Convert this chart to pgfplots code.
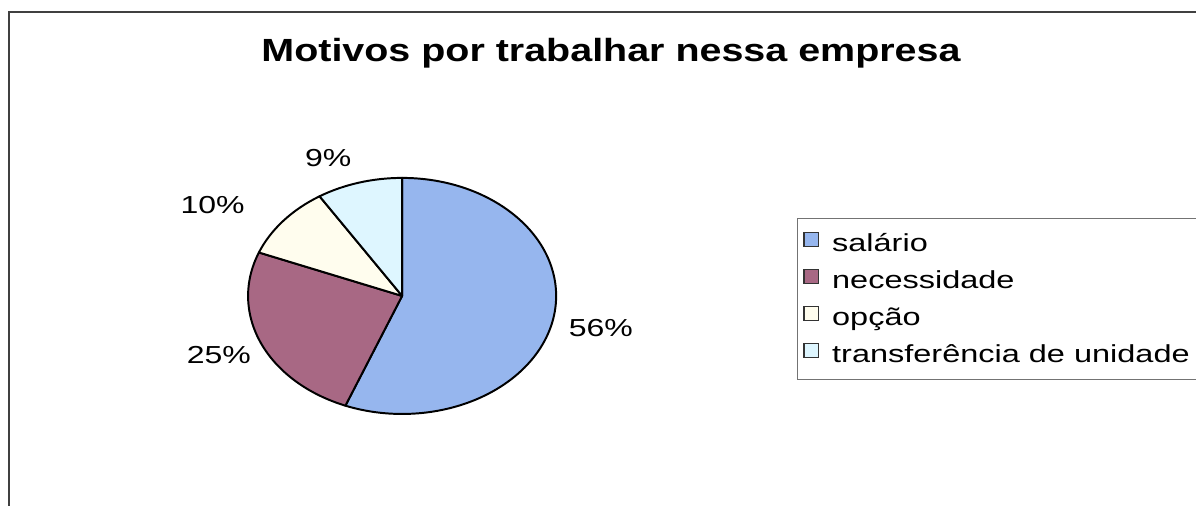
\documentclass[border=0pt]{standalone}
\usepackage{pgfplots}
\pgfplotsset{compat=1.18}
\usepackage{fontspec}
\setmainfont{Liberation Sans}
\usepackage{graphicx}
\definecolor{cA}{RGB}{150,182,238}
\definecolor{cB}{RGB}{168,104,132}
\definecolor{cC}{RGB}{255,253,238}
\definecolor{cD}{RGB}{222,246,255}
\newcommand\sx[1]{\scalebox{1.3}[1]{#1}}
\newcommand\lx[1]{\scalebox{1.32}[1]{#1}}
\newcommand\lab{\fontsize{17.5}{21}\selectfont}
\begin{document}
\begin{tikzpicture}[x=0.025cm,y=0.025cm]
\useasboundingbox (0,0) rectangle (1196,506);
\fill[white] (0,0) rectangle (1196,506);
\draw[line width=1.4pt, black!75] (9,-5) -- (9,494) -- (1200,494);
\node[font=\bfseries\fontsize{22.8}{26}\selectfont] at (611,453) {\scalebox{1.23}[1]{Motivos por trabalhar nessa empresa}};
\begin{axis}[at={(6.2cm,2.3cm)}, anchor=south west, scale only axis,
  x=3.85cm, y=2.95cm, xmin=-1, xmax=1, ymin=-1, ymax=1,
  hide axis, clip=false,
  legend cell align=left,
  legend image code/.code={\draw[#1] (0cm,-0.08cm) rectangle (0.36cm,0.28cm); \path (0.62cm,0);},
  legend style={at={(1.7825,0.8305)}, anchor=north west,
    draw=black!55, line width=0.8pt, fill=white,
    font=\lab, row sep=8.2pt, inner xsep=4pt, inner ysep=8.5pt}]
\pgfmathsetmacro\startang{90}
\foreach \v/\c/\lx/\ly in {56/cA/1.29/-0.27, 25/cB/-1.19/-0.5, 10/cC/-1.23/0.77, 9/cD/-0.48/1.17}{
  \pgfmathsetmacro\endang{\startang-3.6*\v}
  \edef\temp{\noexpand\filldraw[fill=\c, draw=black, line width=1.4pt, line join=round] (axis cs:0,0) -- (axis cs:{cos(\startang)},{sin(\startang)}) arc[start angle=\startang, end angle=\endang, x radius=3.85cm, y radius=2.95cm] -- cycle;
    \noexpand\node[font=\noexpand\lab] at (axis cs:\lx,\ly) {\noexpand\sx{\v\noexpand\%}};}
  \temp
  \global\let\startang\endang
}
\addlegendimage{fill=cA, draw=black!80, line width=0.8pt}
\addlegendentry{\lx{salário}}
\addlegendimage{fill=cB, draw=black!80, line width=0.8pt}
\addlegendentry{\lx{necessidade}}
\addlegendimage{fill=cC, draw=black!80, line width=0.8pt}
\addlegendentry{\lx{opção}}
\addlegendimage{fill=cD, draw=black!80, line width=0.8pt}
\addlegendentry{\lx{transferência de unidade}}
\end{axis}
\end{tikzpicture}
\end{document}
